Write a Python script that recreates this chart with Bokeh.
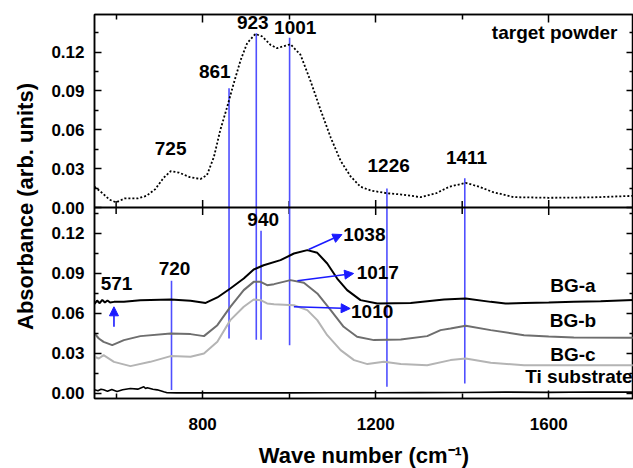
from math import pi
from bokeh.plotting import figure
from bokeh.models import (Range1d, FixedTicker, LinearAxis, CustomJSTickFormatter,
                          Arrow, NormalHead, Label, Span)
from bokeh.embed import file_html
from bokeh.resources import INLINE

FONT = "Liberation Sans"

# ---------------- data ----------------
TP_X = [550, 565, 585, 600, 620, 650, 670, 690, 710, 726, 745, 770, 795, 810, 826, 841, 857, 872,
        888, 903, 922, 938, 957, 972, 992, 1003, 1026, 1049, 1073, 1096, 1119, 1142, 1165, 1190,
        1227, 1260, 1304, 1340, 1370, 1408, 1440, 1470, 1519, 1600, 1700, 1796]
TP_Y = [0.016, 0.012, 0.006, 0.004, 0.007, 0.007, 0.009, 0.014, 0.023, 0.028, 0.027, 0.0235, 0.022,
        0.025, 0.039, 0.060, 0.078, 0.096, 0.114, 0.127, 0.134, 0.132, 0.1255, 0.123, 0.125, 0.126,
        0.118, 0.098, 0.075, 0.054, 0.036, 0.024, 0.016, 0.013, 0.011, 0.010, 0.008, 0.011, 0.016,
        0.019, 0.016, 0.012, 0.008, 0.0075, 0.0078, 0.009]

BGA_X = [550, 556, 562, 568, 574, 580, 586, 595, 618, 656, 726, 772, 807, 834, 864, 895, 918, 941,
         980, 1011, 1042, 1065, 1088, 1111, 1134, 1165, 1204, 1281, 1358, 1408, 1466, 1500, 1543,
         1600, 1658, 1720, 1796]
BGA_Y = [0.067, 0.0695, 0.0675, 0.070, 0.068, 0.0695, 0.068, 0.0685, 0.0685, 0.0698, 0.0703, 0.0693,
         0.0677, 0.0718, 0.0785, 0.086, 0.0928, 0.096, 0.0998, 0.1048, 0.1073, 0.1053, 0.0973,
         0.086, 0.0773, 0.0698, 0.0673, 0.0677, 0.0703, 0.071, 0.0685, 0.0672, 0.0677, 0.0680,
         0.0685, 0.0690, 0.0700]

BGB_X = [550, 560, 571, 591, 618, 656, 726, 772, 803, 834, 864, 895, 918, 934, 949, 965, 1003,
         1034, 1065, 1096, 1126, 1157, 1196, 1258, 1319, 1350, 1373, 1408, 1466, 1543, 1600, 1658,
         1796]
BGB_Y = [0.0448, 0.041, 0.0385, 0.036, 0.0398, 0.0428, 0.0448, 0.0443, 0.0428, 0.051, 0.0648,
         0.0773, 0.0835, 0.0835, 0.081, 0.0818, 0.0848, 0.0828, 0.0748, 0.0623, 0.0498, 0.0423,
         0.0398, 0.0403, 0.0428, 0.0473, 0.0485, 0.0505, 0.0473, 0.0435, 0.0425, 0.0418, 0.0415]

BGC_X = [550, 560, 571, 595, 633, 679, 726, 772, 803, 834, 864, 895, 918, 934, 949, 965, 1011,
         1042, 1065, 1088, 1119, 1150, 1181, 1219, 1258, 1319, 1373, 1408, 1466, 1543, 1650, 1796]
BGC_Y = [0.0273, 0.026, 0.0285, 0.0235, 0.0203, 0.0235, 0.0278, 0.0273, 0.0298, 0.0385, 0.0548,
         0.0648, 0.0703, 0.0698, 0.0673, 0.0668, 0.066, 0.0623, 0.0548, 0.0435, 0.0323, 0.0248,
         0.0218, 0.0235, 0.0218, 0.021, 0.0248, 0.026, 0.0228, 0.021, 0.021, 0.021]

TI_X = [550, 558, 565, 571, 580, 590, 602, 615, 633, 650, 664, 668, 672, 685, 695, 710, 718, 740,
        800, 900, 1000, 1100, 1200, 1300, 1400, 1500, 1600, 1700, 1796]
TI_Y = [0.0025, 0.0018, 0.003, 0.0025, 0.0015, 0.0028, 0.0013, 0.0025, 0.0035, 0.003, 0.0048,
        0.0035, 0.004, 0.003, 0.0025, 0.001, 0.0003, 0.0002, 0.0002, 0.0002, 0.0002, 0.0003,
        0.0003, 0.0004, 0.0005, 0.0008, 0.0006, 0.0009, 0.0008]

# peak marker lines crossing both panels
PEAK_X = [861, 924, 1001, 1226, 1406]
PEAK_TOP = [0.092, 0.1345, 0.131, 0.0147, 0.0225]     # upper end in the top panel
PEAK_BOT = [0.041, 0.040, 0.036, 0.0048, 0.0073]      # lower end in the bottom panel
# marker lines only in the bottom panel
BPEAK_X = [728, 935]
BPEAK_Y0 = [0.0843, 0.1218]
BPEAK_Y1 = [0.0023, 0.040]

TOP_LABELS = [("725", 726, 0.0457), ("861", 828, 0.1047), ("923", 916, 0.1425),
              ("1001", 1014, 0.1392), ("1226", 1230, 0.0325), ("1411", 1410, 0.0387)]
BOT_LABELS = [("940", 940, 0.1305), ("720", 735, 0.0938), ("571", 601, 0.0823)]
CURVE_LABELS = [("BG-a", 1656, 0.0805), ("BG-b", 1656, 0.0543), ("BG-c", 1656, 0.029)]

# arrows: (x_start, y_start, x_end, y_end, label, label_x, label_y)
ARROWS = [(1045, 0.1078, 1122, 0.119, "1038", 1125, 0.119),
          (1019, 0.0843, 1149, 0.0898, "1017", 1156, 0.0903),
          (1011, 0.0648, 1141, 0.0635, "1010", 1143, 0.061),
          (595, 0.0498, 595, 0.0648, None, None, None)]

X_MAJOR = [800, 1200, 1600]
X_MINOR = [600, 1000, 1400]
Y_MAJOR = [0.0, 0.03, 0.06, 0.09, 0.12]
Y_MINOR = [0.015, 0.045, 0.075, 0.105, 0.135]

# panel value ranges and their heights on the page (px)
TOP_YR = (0.0, 0.149)
BOT_YR = (-0.004, 0.1393)
H_TOP, H_BOT = 193, 191
H_ALL = H_TOP + H_BOT

BLUE = "#4f4fff"
ABLUE = "#1a1aff"

# the bottom panel uses the default y range, the top panel a named one; both
# ranges span the whole frame so that each panel fills its own part of it
d_lo = BOT_YR[0]
d_hi = BOT_YR[0] + (BOT_YR[1] - BOT_YR[0]) * H_ALL / H_BOT
t_hi = TOP_YR[1]
t_lo = TOP_YR[1] - (TOP_YR[1] - TOP_YR[0]) * H_ALL / H_TOP
k = (d_hi - d_lo) / (t_hi - t_lo)


def top_to_default(v):
    return d_lo + (v - t_lo) * k


p = figure(frame_width=539, frame_height=H_ALL, x_range=Range1d(550, 1796),
           y_range=Range1d(d_lo, d_hi), output_backend="svg", toolbar_location=None,
           x_axis_location=None, y_axis_location=None,
           min_border_left=94, min_border_right=0, min_border_top=14, min_border_bottom=70)
p.extra_y_ranges = {"top": Range1d(t_lo, t_hi)}
p.grid.visible = False
p.outline_line_color = "black"
p.outline_line_width = 1.5

Y_TICKS = Y_MAJOR + [top_to_default(v) for v in Y_MAJOR]
Y_MINORS = Y_MINOR + [top_to_default(v) for v in Y_MINOR]
y_fmt = CustomJSTickFormatter(
    args=dict(split=BOT_YR[1], dlo=d_lo, tlo=t_lo, k=k),
    code="""
    let v = tick;
    if (tick >= split - 1e-9) { v = (tick - dlo) / k + tlo; }
    return (Math.round(v * 100) / 100).toFixed(2);
    """)


def style(ax, major_in, minor_in):
    ax.major_tick_in = major_in
    ax.minor_tick_in = minor_in
    ax.major_tick_out = 0
    ax.minor_tick_out = 0
    ax.axis_line_width = 1.5
    ax.major_tick_line_width = 1.5
    ax.minor_tick_line_width = 1.5
    ax.axis_line_color = "black"


def hide_labels(ax):
    ax.formatter = CustomJSTickFormatter(code="return ''")
    ax.major_label_text_font_size = "0px"
    ax.major_label_standoff = 0


def label_font(ax, standoff):
    ax.major_label_text_font = FONT
    ax.major_label_text_font_style = "bold"
    ax.major_label_text_font_size = "17px"
    ax.major_label_text_color = "black"
    ax.major_label_standoff = standoff


left = LinearAxis(ticker=FixedTicker(ticks=Y_TICKS, minor_ticks=Y_MINORS), formatter=y_fmt)
style(left, 7, 4)
label_font(left, 10)
left.axis_label = "Absorbance (arb. units)"
left.axis_label_text_font = FONT
left.axis_label_text_font_style = "bold"
left.axis_label_text_font_size = "22px"
left.axis_label_text_color = "black"
left.axis_label_standoff = 10
p.add_layout(left, "left")

right = LinearAxis(ticker=FixedTicker(ticks=Y_TICKS, minor_ticks=Y_MINORS))
style(right, 7, 4)
hide_labels(right)
p.add_layout(right, "right")

above = LinearAxis(ticker=FixedTicker(ticks=X_MAJOR, minor_ticks=X_MINOR))
style(above, 8, 5)
hide_labels(above)
p.add_layout(above, "above")

below = LinearAxis(ticker=FixedTicker(ticks=X_MAJOR, minor_ticks=X_MINOR))
style(below, 8, 5)
label_font(below, 19)
below.axis_label = "Wave number (cm\u207b\u00b9)"
below.axis_label_text_font = FONT
below.axis_label_text_font_style = "bold"
below.axis_label_text_font_size = "22px"
below.axis_label_text_color = "black"
below.axis_label_standoff = 10
p.add_layout(below, "below")

# border between the two panels, with its tick marks
p.add_layout(Span(location=TOP_YR[0], dimension="width", y_range_name="top",
                  line_color="black", line_width=2))
p.scatter(x=X_MAJOR, y=[TOP_YR[0]] * len(X_MAJOR), y_range_name="top", marker="dash",
          angle=pi / 2, size=15, line_color="black", line_width=1.5)
p.scatter(x=X_MINOR, y=[TOP_YR[0]] * len(X_MINOR), y_range_name="top", marker="dash",
          angle=pi / 2, size=13, line_color="black", line_width=1.5)


def add_label(text, x, y, align="center", rname="default"):
    p.add_layout(Label(x=x, y=y, text=text, text_font=FONT, text_font_style="bold",
                       text_font_size="19px", text_align=align, text_baseline="middle",
                       text_color="black", y_range_name=rname))


# ---------------- top panel ----------------
p.segment(x0=PEAK_X, y0=PEAK_TOP, x1=PEAK_X, y1=[TOP_YR[0]] * len(PEAK_X),
          line_color=BLUE, line_width=1.6, y_range_name="top")
p.line(TP_X, TP_Y, line_color="black", line_width=1.8, line_dash="2 2", y_range_name="top")
for t, x, y in TOP_LABELS:
    add_label(t, x, y, rname="top")
add_label("target powder", 1759, 0.1348, align="right", rname="top")

# ---------------- bottom panel ----------------
p.segment(x0=PEAK_X, y0=[BOT_YR[1]] * len(PEAK_X), x1=PEAK_X, y1=PEAK_BOT,
          line_color=BLUE, line_width=1.6)
p.segment(x0=BPEAK_X, y0=BPEAK_Y0, x1=BPEAK_X, y1=BPEAK_Y1,
          line_color=BLUE, line_width=1.6)
p.line(TI_X, TI_Y, line_color="black", line_width=1.6)
p.line(BGC_X, BGC_Y, line_color="#b4b4b4", line_width=2)
p.line(BGB_X, BGB_Y, line_color="#6e6e6e", line_width=2)
p.line(BGA_X, BGA_Y, line_color="black", line_width=2)

for xs, ys, xe, ye, t, lx, ly in ARROWS:
    p.add_layout(Arrow(x_start=xs, y_start=ys, x_end=xe, y_end=ye, line_color=ABLUE,
                       line_width=1.6,
                       end=NormalHead(size=9, fill_color=ABLUE, line_color=ABLUE)))
    if t:
        add_label(t, lx, ly, align="left")
for t, x, y in BOT_LABELS + CURVE_LABELS:
    add_label(t, x, y)
add_label("Ti substrate", 1794, 0.0123, align="right")

open("out.html", "w").write(file_html(p, INLINE))
